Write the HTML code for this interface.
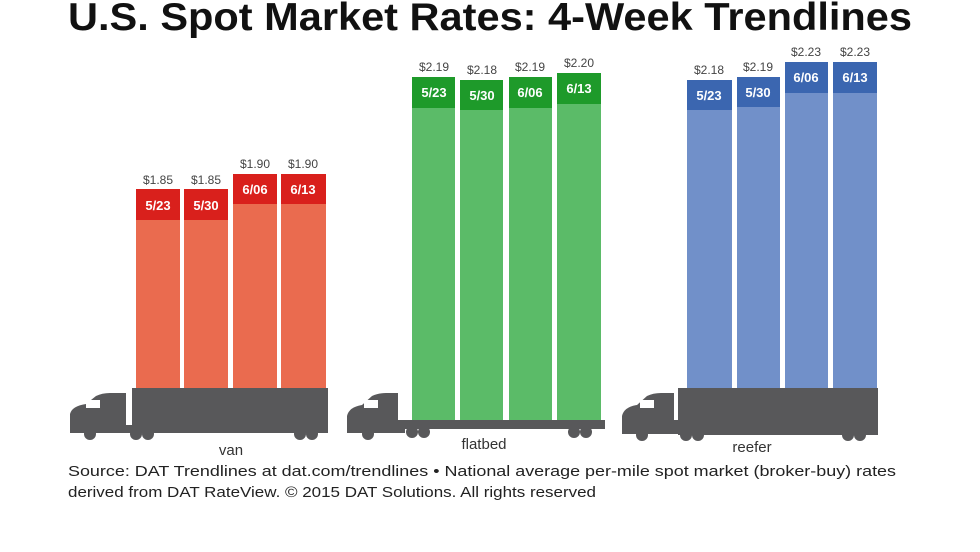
<!DOCTYPE html>
<html><head><meta charset="utf-8"><style>
html,body{margin:0;padding:0;background:#fff;}
svg{display:block;font-family:"Liberation Sans",sans-serif;}
</style></head><body>
<svg width="980" height="552" viewBox="0 0 980 552" xmlns="http://www.w3.org/2000/svg">
<rect width="980" height="552" fill="#fff"/>
<text x="68" y="30" font-size="39" font-weight="bold" fill="#111" textLength="844" lengthAdjust="spacingAndGlyphs">U.S. Spot Market Rates: 4-Week Trendlines</text>

<!-- VAN -->
<g>
<rect x="136" y="189" width="44" height="200" fill="#ea6b4f"/>
<rect x="184" y="189" width="44" height="200" fill="#ea6b4f"/>
<rect x="233" y="174" width="44" height="215" fill="#ea6b4f"/>
<rect x="281" y="174" width="45" height="215" fill="#ea6b4f"/>
<rect x="136" y="189" width="44" height="31" fill="#d9201c"/>
<rect x="184" y="189" width="44" height="31" fill="#d9201c"/>
<rect x="233" y="174" width="44" height="30" fill="#d9201c"/>
<rect x="281" y="174" width="45" height="30" fill="#d9201c"/>
<g font-size="13" font-weight="bold" fill="#fff" text-anchor="middle">
<text x="158" y="210">5/23</text><text x="206" y="210">5/30</text><text x="255" y="194">6/06</text><text x="303" y="194">6/13</text></g>
<g font-size="12" fill="#444" text-anchor="middle">
<text x="158" y="184">$1.85</text><text x="206" y="184">$1.85</text><text x="255" y="168">$1.90</text><text x="303" y="168">$1.90</text></g>
<rect x="132" y="388" width="196" height="45" fill="#58585a"/>
<path d="M70 433 L70 414 Q72 406 86 404 L96 396 Q102 393 110 393 L126 393 L126 425 L132 425 L132 433 Z" fill="#58585a"/>
<rect x="86" y="400" width="14" height="8" fill="#fff"/>
<circle cx="90" cy="434" r="6" fill="#58585a"/><circle cx="136" cy="434" r="6" fill="#58585a"/><circle cx="148" cy="434" r="6" fill="#58585a"/>
<circle cx="300" cy="434" r="6" fill="#58585a"/><circle cx="312" cy="434" r="6" fill="#58585a"/>
<text x="231" y="455" font-size="15" fill="#333" text-anchor="middle">van</text>
</g>

<!-- FLATBED -->
<g>
<rect x="412" y="77" width="43" height="344" fill="#5bbb68"/>
<rect x="460" y="80" width="43" height="341" fill="#5bbb68"/>
<rect x="509" y="77" width="43" height="344" fill="#5bbb68"/>
<rect x="557" y="73" width="44" height="348" fill="#5bbb68"/>
<rect x="412" y="77" width="43" height="31" fill="#1e9a2a"/>
<rect x="460" y="80" width="43" height="30" fill="#1e9a2a"/>
<rect x="509" y="77" width="43" height="31" fill="#1e9a2a"/>
<rect x="557" y="73" width="44" height="31" fill="#1e9a2a"/>
<g font-size="13" font-weight="bold" fill="#fff" text-anchor="middle">
<text x="434" y="97">5/23</text><text x="482" y="100">5/30</text><text x="530" y="97">6/06</text><text x="579" y="93">6/13</text></g>
<g font-size="12" fill="#444" text-anchor="middle">
<text x="434" y="71">$2.19</text><text x="482" y="74">$2.18</text><text x="530" y="71">$2.19</text><text x="579" y="67">$2.20</text></g>
<rect x="405" y="420" width="200" height="9" fill="#58585a"/>
<path d="M347 433 L347 416 Q349 407 362 405 L372 396 Q378 393 386 393 L398 393 L398 420 L405 420 L405 433 Z" fill="#58585a"/>
<rect x="364" y="400" width="14" height="8" fill="#fff"/>
<circle cx="368" cy="434" r="6" fill="#58585a"/><circle cx="412" cy="432" r="6" fill="#58585a"/><circle cx="424" cy="432" r="6" fill="#58585a"/>
<circle cx="574" cy="432" r="6" fill="#58585a"/><circle cx="586" cy="432" r="6" fill="#58585a"/>
<text x="484" y="449" font-size="15" fill="#333" text-anchor="middle">flatbed</text>
</g>

<!-- REEFER -->
<g>
<rect x="687" y="80" width="45" height="309" fill="#7190c9"/>
<rect x="737" y="77" width="43" height="312" fill="#7190c9"/>
<rect x="785" y="62" width="43" height="327" fill="#7190c9"/>
<rect x="833" y="62" width="44" height="327" fill="#7190c9"/>
<rect x="687" y="80" width="45" height="30" fill="#3b66b0"/>
<rect x="737" y="77" width="43" height="30" fill="#3b66b0"/>
<rect x="785" y="62" width="43" height="31" fill="#3b66b0"/>
<rect x="833" y="62" width="44" height="31" fill="#3b66b0"/>
<g font-size="13" font-weight="bold" fill="#fff" text-anchor="middle">
<text x="709" y="100">5/23</text><text x="758" y="97">5/30</text><text x="806" y="82">6/06</text><text x="855" y="82">6/13</text></g>
<g font-size="12" fill="#444" text-anchor="middle">
<text x="709" y="74">$2.18</text><text x="758" y="71">$2.19</text><text x="806" y="56">$2.23</text><text x="855" y="56">$2.23</text></g>
<rect x="678" y="388" width="200" height="47" fill="#58585a"/>
<path d="M622 434 L622 416 Q624 407 637 405 L647 396 Q653 393 661 393 L674 393 L674 420 L678 420 L678 434 Z" fill="#58585a"/>
<rect x="640" y="400" width="14" height="8" fill="#fff"/>
<circle cx="642" cy="435" r="6" fill="#58585a"/><circle cx="686" cy="435" r="6" fill="#58585a"/><circle cx="698" cy="435" r="6" fill="#58585a"/>
<circle cx="848" cy="435" r="6" fill="#58585a"/><circle cx="860" cy="435" r="6" fill="#58585a"/>
<text x="752" y="452" font-size="15" fill="#333" text-anchor="middle">reefer</text>
</g>

<g font-size="15" fill="#222">
<text x="68" y="476" textLength="828" lengthAdjust="spacingAndGlyphs">Source: DAT Trendlines at dat.com/trendlines • National average per-mile spot market (broker-buy) rates</text>
<text x="68" y="497" textLength="528" lengthAdjust="spacingAndGlyphs">derived from DAT RateView. © 2015 DAT Solutions. All rights reserved</text>
</g>
</svg>
</body></html>
